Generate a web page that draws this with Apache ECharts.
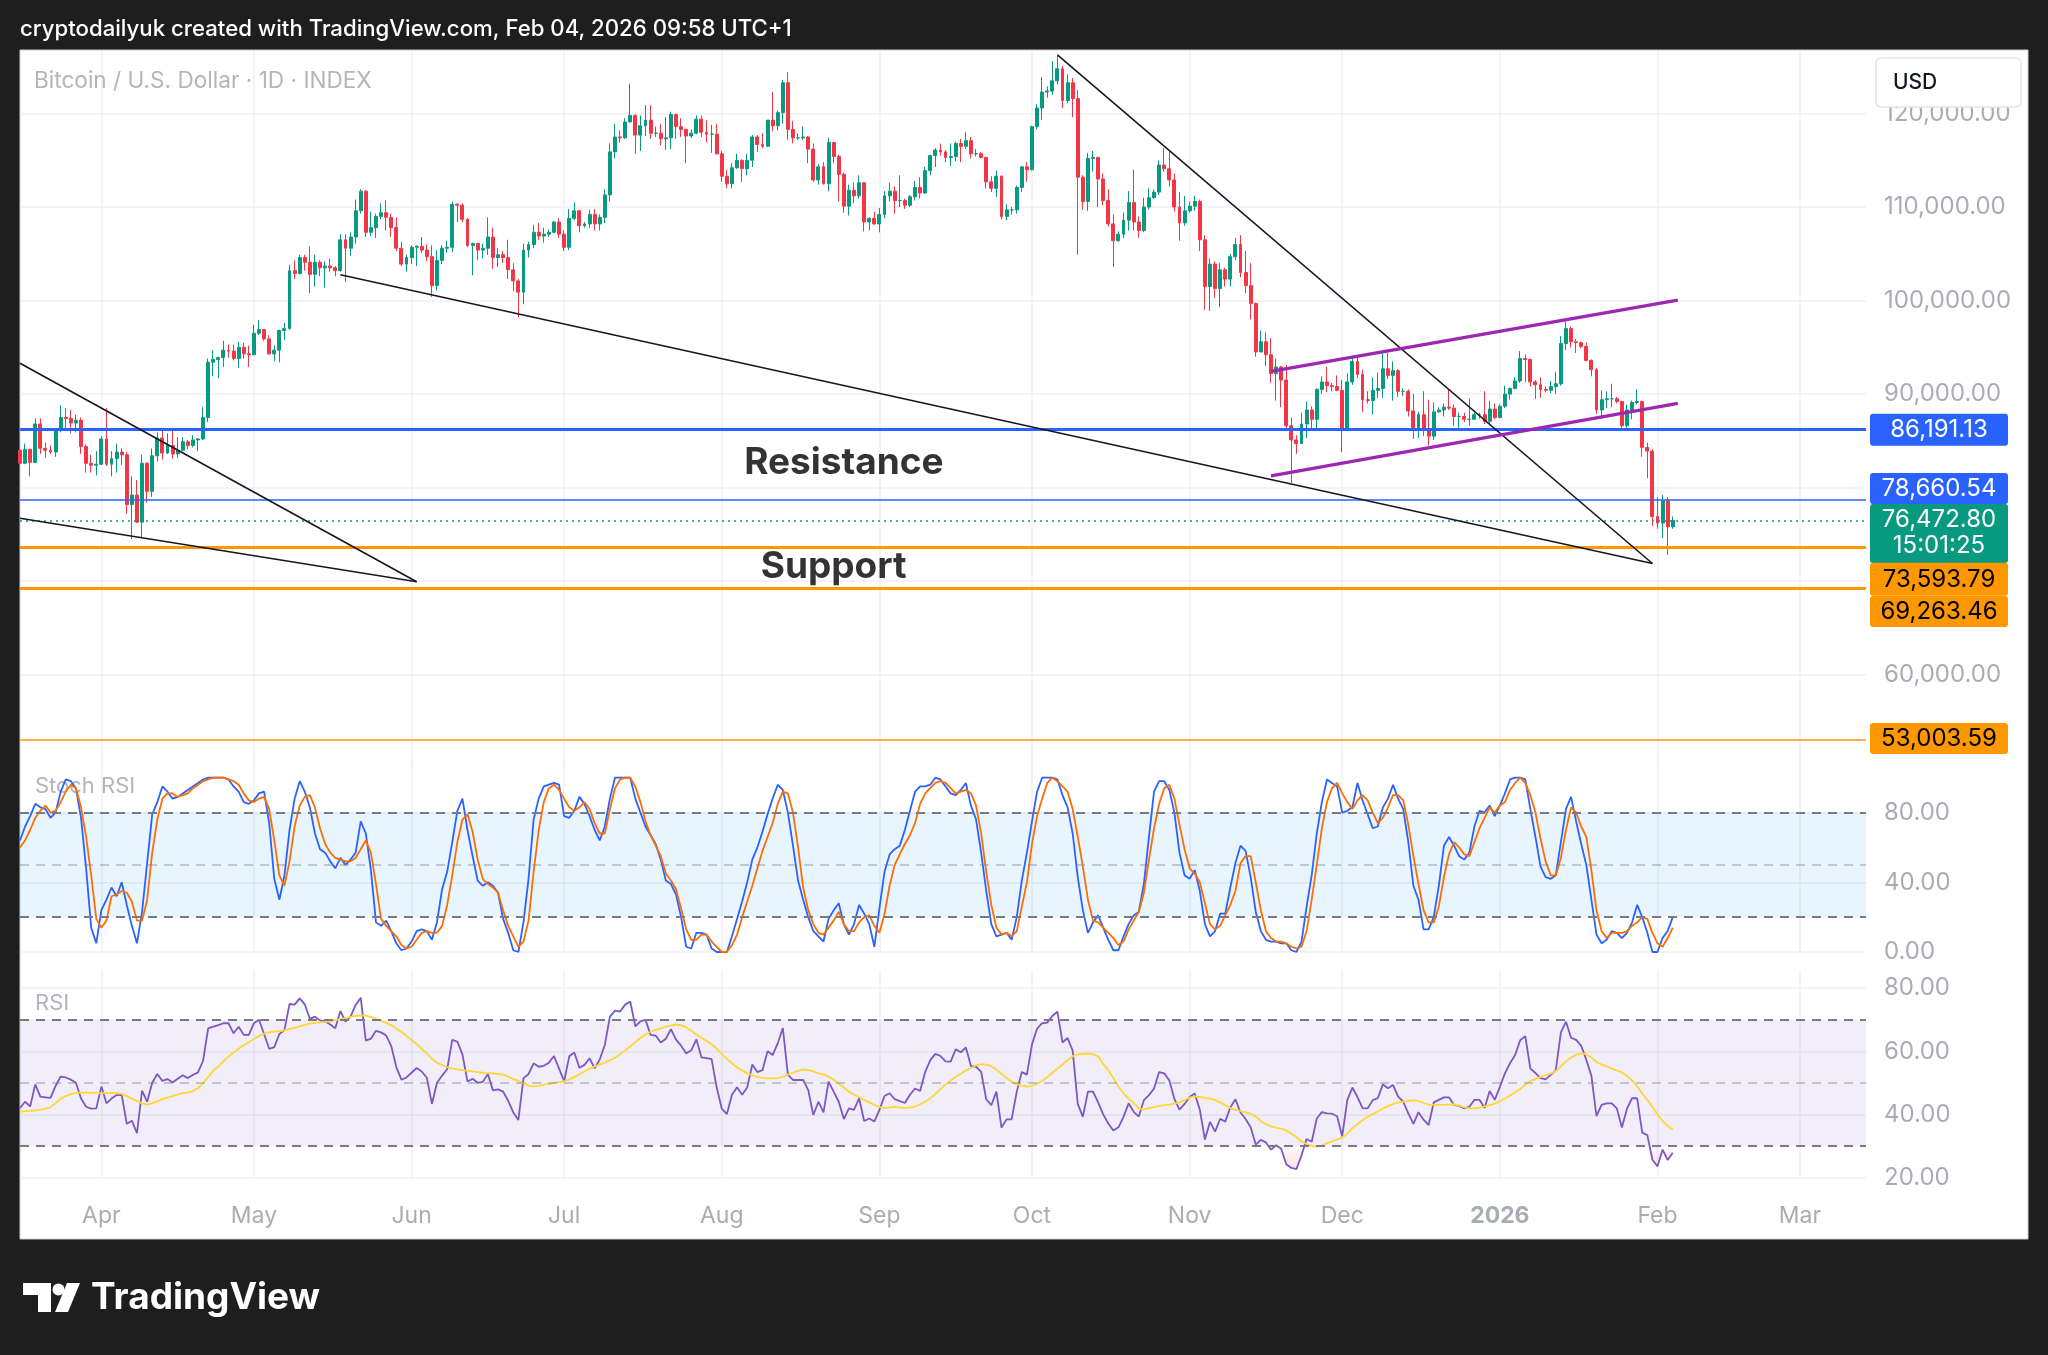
<!DOCTYPE html>
<html><head><meta charset="utf-8">
<script src="https://cdn.jsdelivr.net/npm/echarts@6/dist/echarts.min.js"></script>
<style>html,body{margin:0;padding:0;background:#1e1e1e;}#c{width:2048px;height:1355px;}</style>
</head><body><div id="c"></div>
<script>
// ---------- DATA ----------
const startDay = Date.UTC(2025, 2, 16);   // first category: 2025-03-16
const dayCount = 364;                      // categories through 2026-03-14
const monthNames = ['Jan','Feb','Mar','Apr','May','Jun','Jul','Aug','Sep','Oct','Nov','Dec'];
const titleText = 'cryptodailyuk created with TradingView.com, Feb 04, 2026 09:58 UTC+1';
const symbolText = 'Bitcoin / U.S. Dollar \u00b7 1D \u00b7 INDEX';

// daily candles, thousands USD: [open, close, low, high]
const ohlc = [
[84.0,82.6,82.0,85.0],[82.6,84.1,82.5,84.7],[84.1,82.7,81.2,84.1],[82.7,86.8,82.6,87.4],[86.8,84.2,83.6,87.4],
[84.2,84.0,83.2,84.8],[84.0,83.8,83.6,84.5],[83.8,86.1,83.3,86.3],[86.1,87.5,85.9,88.8],[87.5,87.4,86.3,88.5],
[87.4,86.9,85.8,88.3],[86.9,87.2,85.9,87.8],[87.2,84.4,83.6,87.5],[84.4,82.6,81.6,84.6],[82.6,82.4,81.6,83.5],
[82.4,82.5,81.3,83.9],[82.5,85.2,82.4,85.5],[85.2,82.5,82.3,88.5],[82.5,83.1,81.2,83.9],[83.1,83.8,81.6,84.7],
[83.8,83.5,82.4,84.2],[83.5,78.2,77.2,83.8],[78.2,79.2,74.5,81.2],[79.2,76.3,76.2,80.8],[76.3,82.6,74.6,83.5],
[82.6,79.6,78.4,82.7],[79.6,83.4,79.0,84.2],[83.4,85.3,82.8,85.9],[85.3,83.7,83.0,86.1],[83.7,84.5,83.6,85.8],
[84.5,83.6,83.1,86.4],[83.6,84.0,83.2,85.4],[84.0,84.9,83.9,85.4],[84.9,84.5,84.1,85.1],[84.5,85.1,84.3,85.6],
[85.1,85.2,83.9,85.3],[85.2,87.5,85.1,88.6],[87.5,93.4,87.0,93.8],[93.4,93.7,91.9,94.7],[93.7,93.9,91.7,94.0],
[93.9,94.7,92.9,95.7],[94.7,94.6,93.9,95.3],[94.6,93.8,93.6,95.3],[93.8,95.0,92.8,95.6],[95.0,94.3,93.8,95.5],
[94.3,94.2,92.9,95.2],[94.2,96.5,94.2,97.4],[96.5,96.9,96.3,97.9],[96.9,95.9,95.7,96.9],[95.9,94.3,94.2,96.3],
[94.3,94.7,93.5,95.2],[94.7,96.8,93.4,96.9],[96.8,97.0,95.8,97.6],[97.0,103.2,96.9,103.8],[103.2,102.9,102.3,104.3],
[102.9,104.6,102.8,104.9],[104.6,104.1,103.2,104.9],[104.1,102.8,100.8,105.8],[102.8,104.1,101.5,104.9],[104.1,103.5,102.6,104.3],
[103.5,103.7,101.4,104.2],[103.7,103.5,103.1,104.5],[103.5,103.2,102.6,103.7],[103.2,106.5,103.1,107.1],[106.5,105.6,102.0,107.1],
[105.6,106.8,104.8,107.3],[106.8,109.6,106.1,110.8],[109.6,111.7,109.3,111.9],[111.7,107.3,106.8,111.8],[107.3,107.8,106.9,109.5],
[107.8,109.0,106.7,109.3],[109.0,109.4,108.7,110.4],[109.4,108.9,107.5,110.7],[108.9,107.8,106.8,109.3],[107.8,105.6,105.3,108.9],
[105.6,103.9,103.7,106.3],[103.9,104.6,103.1,104.9],[104.6,105.7,103.9,105.9],[105.7,105.8,103.7,105.9],[105.8,105.4,105.1,106.8],
[105.4,104.7,104.2,106.0],[104.7,101.6,100.4,105.9],[101.6,104.3,101.1,105.4],[104.3,105.6,103.9,105.9],[105.6,105.7,105.1,106.4],
[105.7,110.3,105.2,110.6],[110.3,110.2,108.4,110.4],[110.2,108.7,108.4,110.4],[108.7,105.9,105.7,108.8],[105.9,106.1,102.7,106.2],
[106.1,105.4,104.3,106.2],[105.4,105.6,104.5,106.1],[105.6,106.8,104.9,108.9],[106.8,104.6,103.4,107.8],[104.6,104.9,103.6,105.6],
[104.9,104.6,104.0,105.3],[104.6,103.3,102.3,106.5],[103.3,102.1,101.0,104.0],[102.1,100.9,98.2,102.3],[100.9,105.4,99.6,106.1],
[105.4,106.0,104.6,106.3],[106.0,107.3,105.6,108.1],[107.3,106.9,106.5,108.3],[106.9,107.1,106.2,107.8],[107.1,107.3,106.8,107.6],
[107.3,108.4,107.2,108.5],[108.4,107.1,106.7,108.8],[107.1,105.7,105.3,107.5],[105.7,108.8,105.4,109.8],[108.8,109.6,108.6,110.5],
[109.6,108.0,107.3,109.7],[108.0,108.2,107.8,108.4],[108.2,109.2,107.8,109.7],[109.2,108.2,107.5,109.8],[108.2,108.9,107.5,109.2],
[108.9,111.3,108.3,111.9],[111.3,115.9,110.6,116.8],[115.9,117.5,115.2,118.9],[117.5,117.4,116.9,118.2],[117.4,119.1,117.3,119.5],
[119.1,119.8,119.1,123.2],[119.8,117.7,115.7,119.9],[117.7,118.7,116.0,119.8],[118.7,119.3,117.6,120.9],[119.3,117.9,117.3,120.9],
[117.9,117.9,117.5,118.6],[117.9,117.3,116.6,118.9],[117.3,117.4,116.1,119.6],[117.4,119.9,116.2,120.2],[119.9,118.6,117.3,120.0],
[118.6,118.3,117.5,119.5],[118.3,117.6,114.7,118.4],[117.6,117.9,117.4,118.3],[117.9,119.4,117.8,119.8],[119.4,118.0,117.5,119.8],
[118.0,117.8,116.9,119.3],[117.8,117.8,115.8,118.8],[117.8,115.7,115.6,118.9],[115.7,113.3,112.7,116.0],[113.3,112.5,112.0,114.0],
[112.5,114.2,112.0,114.7],[114.2,115.0,114.1,115.7],[115.0,114.1,112.7,115.1],[114.1,115.0,113.4,115.7],[115.0,117.5,114.3,117.7],
[117.5,116.7,115.9,117.7],[116.7,116.5,116.3,117.9],[116.5,119.3,116.5,119.3],[119.3,118.7,118.1,122.3],[118.7,120.1,118.2,120.3],
[120.1,123.3,118.9,123.6],[123.3,118.3,117.2,124.4],[118.3,117.4,116.8,119.2],[117.4,117.4,117.2,117.9],[117.4,117.5,117.2,118.6],
[117.5,116.2,114.7,117.6],[116.2,112.9,112.7,116.8],[112.9,114.3,112.4,114.6],[114.3,112.5,112.4,114.8],[112.5,116.9,111.7,117.4],
[116.9,115.4,114.7,117.0],[115.4,113.5,110.6,115.6],[113.5,110.1,109.4,113.7],[110.1,111.8,109.1,112.4],[111.8,111.2,110.4,112.6],
[111.2,112.6,110.9,113.4],[112.6,108.4,107.4,112.6],[108.4,108.8,107.5,108.9],[108.8,108.2,108.1,109.5],[108.2,109.2,107.3,109.9],
[109.2,111.2,108.8,111.7],[111.2,111.7,110.6,112.6],[111.7,110.7,109.3,112.2],[110.7,110.7,110.0,113.4],[110.7,110.2,109.8,110.9],
[110.2,111.1,110.0,111.3],[111.1,112.1,110.7,112.8],[112.1,111.5,110.9,113.2],[111.5,113.9,111.4,114.3],[113.9,115.5,113.4,115.6],
[115.5,116.1,114.3,116.3],[116.1,115.9,115.5,116.8],[115.9,115.3,114.8,116.1],[115.3,115.4,114.4,116.8],[115.4,116.8,114.9,117.0],
[116.8,116.5,114.8,117.3],[116.5,117.1,116.2,118.0],[117.1,115.7,115.2,117.5],[115.7,115.7,115.4,116.2],[115.7,115.3,115.2,115.9],
[115.3,112.7,112.0,115.4],[112.7,112.0,111.6,113.3],[112.0,113.3,111.1,113.9],[113.3,109.0,108.7,113.4],[109.0,109.7,108.6,110.3],
[109.7,109.7,109.2,110.0],[109.7,112.1,109.3,112.3],[112.1,114.3,111.6,114.4],[114.3,114.0,112.7,114.8],[114.0,118.6,113.9,118.7],
[118.6,120.6,118.3,121.0],[120.6,122.3,119.3,123.9],[122.3,122.4,121.7,122.9],[122.4,123.5,122.0,125.6],[123.5,124.8,123.1,126.2],
[124.8,121.4,120.6,125.1],[121.4,123.3,121.1,124.2],[123.3,121.6,119.6,123.8],[121.6,113.2,104.9,122.5],[113.2,110.6,109.7,113.4],
[110.6,115.2,109.6,115.8],[115.2,115.3,113.8,116.0],[115.3,113.0,110.0,115.4],[113.0,110.7,110.2,113.6],[110.7,108.2,107.9,111.9],
[108.2,106.4,103.6,109.2],[106.4,107.1,106.3,107.4],[107.1,108.6,106.7,109.4],[108.6,110.5,107.5,111.7],[110.5,108.4,107.5,114.0],
[108.4,107.5,106.7,109.0],[107.5,110.0,107.3,111.0],[110.0,111.0,109.7,112.0],[111.0,111.6,110.9,111.9],[111.6,114.5,111.3,115.0],
[114.5,114.1,113.8,116.3],[114.1,112.9,112.2,116.0],[112.9,110.0,109.5,113.6],[110.0,108.3,106.4,111.6],[108.3,109.6,108.0,111.2],
[109.6,110.1,109.4,110.6],[110.1,110.6,109.6,111.2],[110.6,106.5,105.3,110.8],[106.5,101.5,99.0,107.0],[101.5,103.9,98.9,104.5],
[103.9,101.3,100.3,104.2],[101.3,103.3,99.3,104.0],[103.3,102.3,101.5,103.5],[102.3,104.7,101.5,105.0],[104.7,106.0,104.3,106.7],
[106.0,103.0,102.5,107.0],[103.0,101.6,100.8,105.3],[101.6,99.7,98.0,104.0],[99.7,94.5,94.0,99.8],[94.5,95.6,94.5,96.8],
[95.6,94.2,93.0,96.6],[94.2,92.2,91.2,96.0],[92.2,92.9,89.3,93.8],[92.9,91.5,88.6,93.0],[91.5,86.6,86.2,93.1],
[86.6,85.1,80.5,87.5],[85.1,84.7,83.6,85.6],[84.7,86.8,84.7,88.0],[86.8,88.3,85.3,89.2],[88.3,87.3,86.1,88.7],
[87.3,90.5,86.3,90.6],[90.5,91.3,90.0,91.9],[91.3,90.9,90.2,92.9],[90.9,90.8,90.3,91.2],[90.8,90.4,90.3,92.0],
[90.4,86.3,83.8,91.5],[86.3,91.3,86.2,92.2],[91.3,93.5,91.0,94.1],[93.5,92.1,91.7,94.0],[92.1,89.4,88.1,92.6],
[89.4,89.3,89.0,90.3],[89.3,90.4,87.8,91.8],[90.4,90.6,89.6,92.3],[90.6,92.7,89.6,94.6],[92.7,92.0,91.6,94.4],
[92.0,92.5,89.3,93.5],[92.5,90.3,89.7,92.7],[90.3,90.3,89.8,90.6],[90.3,88.2,87.6,90.5],[88.2,86.4,85.2,90.0],
[86.4,87.8,85.3,88.1],[87.8,86.2,85.5,90.3],[86.2,85.5,84.5,89.4],[85.5,88.1,85.1,89.1],[88.1,88.3,88.0,88.6],
[88.3,88.6,87.6,89.0],[88.6,88.5,88.3,90.5],[88.5,87.6,86.6,88.9],[87.6,87.6,86.4,88.0],[87.6,87.3,87.0,88.0],
[87.3,87.3,86.6,89.5],[87.3,87.8,87.3,88.0],[87.8,87.8,87.4,88.0],[87.8,87.1,86.8,90.3],[87.1,88.4,86.8,89.3],
[88.4,87.5,87.3,89.0],[87.5,88.7,87.4,88.9],[88.7,90.0,88.5,90.9],[90.0,90.6,89.4,90.7],[90.6,91.4,90.5,91.8],
[91.4,93.8,91.2,94.6],[93.8,93.7,91.3,94.2],[93.7,91.3,90.8,93.8],[91.3,91.0,89.5,91.5],[91.0,90.5,89.6,91.8],
[90.5,90.4,90.2,90.8],[90.4,90.8,90.1,91.4],[90.8,91.1,90.0,92.4],[91.1,95.4,90.9,96.2],[95.4,97.0,94.7,97.9],
[97.0,95.6,95.0,97.2],[95.6,95.5,94.4,95.9],[95.5,95.1,94.9,95.6],[95.1,93.6,93.5,95.5],[93.6,92.6,91.9,93.7],
[92.6,88.3,87.9,92.8],[88.3,89.4,87.3,90.4],[89.4,89.5,88.5,90.3],[89.5,89.5,88.6,91.1],[89.5,89.2,89.0,89.7],
[89.2,86.6,86.2,89.3],[86.6,88.3,86.4,88.9],[88.3,89.1,87.3,89.3],[89.1,89.2,88.9,90.5],[89.2,84.3,83.3,89.3],
[84.3,83.9,81.0,84.8],[83.9,76.9,75.9,84.1],[76.9,76.2,75.6,79.0],[76.2,78.6,74.6,79.2],[78.6,75.8,72.8,79.0],
[75.8,76.5,75.6,76.9]
];

const stochK = [
64,72,78,85,83,82,77,80,92,99, 98,94,77,48,14,5,24,30,37,32, 40,27,15,5,23,51,79,86,95,92,
88,89,91,93,95,97,99,100,100,100, 100,99,95,92,86,85,87,91,92,74, 42,30,44,70,88,98,92,83,68,59,
57,52,48,54,50,53,57,75,68,47, 17,15,18,12,5,1,2,6,12,13, 12,7,17,36,46,63,81,88,70,55,
41,38,40,38,34,19,11,1,0,17, 42,76,88,95,96,97,96,78,77,81, 89,85,78,70,64,72,88,100,100,100,
100,88,80,72,67,62,53,41,39,33, 20,3,2,11,11,10,2,0,0,0, 9,19,29,40,53,60,69,79,88,96,
93,80,61,41,30,20,12,9,6,19, 24,28,16,10,16,27,22,16,3,25, 46,56,59,61,70,81,92,95,95,96,
100,99,95,91,90,93,97,84,76,57, 35,16,9,10,11,7,20,41,57,75, 92,100,100,100,99,90,83,68,43,24,
11,17,21,14,7,1,1,9,16,21, 23,39,66,92,98,98,93,80,57,44, 42,47,35,16,9,12,22,22,37,51,
61,58,43,23,12,7,6,6,5,5, 1,0,6,26,44,68,86,99,97,95, 80,81,83,97,87,79,71,72,83,88,
96,88,82,63,38,30,13,13,20,38, 61,66,61,55,53,57,72,81,80,84, 78,84,91,99,100,100,99,82,66,49,
43,42,44,63,82,89,75,62,50,30, 10,5,7,12,11,8,11,17,27,20, 11,0,0,8,12,20
];
const stochD = [
60,64,70,77,81,84,80,81,86,92, 96,94,83,66,44,19,14,18,32,33, 35,34,29,18,18,30,57,76,88,91,
91,89,90,91,94,96,98,99,100,100, 100,99,98,96,91,87,86,88,89,82, 64,44,38,52,72,84,89,90,83,71,
62,57,54,53,52,52,54,59,64,57, 39,19,15,12,9,4,2,3,7,11, 12,11,11,15,27,44,63,76,79,69,
53,42,39,37,34,24,15,9,3,6, 18,46,70,86,94,96,93,88,83,81, 83,86,82,74,68,68,82,94,99,100,
100,95,86,75,67,61,55,45,41,36, 25,13,7,7,10,10,6,3,0,0, 4,10,20,29,38,48,58,66,74,85,
92,91,80,60,37,24,16,11,10,14, 18,23,16,12,12,17,20,21,15,11, 22,38,50,56,62,67,74,85,91,94,
97,98,97,94,91,92,93,91,84,68, 46,27,14,10,11,9,12,26,40,62, 78,88,97,100,98,95,92,82,66,49,
30,18,17,14,11,8,4,6,13,18, 23,34,53,71,85,94,96,88,73,59, 48,45,40,28,16,13,15,21,27,35,
51,55,55,40,24,12,8,6,6,5, 3,2,3,12,30,50,71,86,94,97, 91,86,82,87,90,87,80,74,77,83,
90,90,87,73,55,39,24,17,17,26, 43,56,63,60,56,55,63,71,77,83, 80,84,86,93,97,100,97,90,80,65,
52,44,44,54,70,83,80,72,66,47, 24,12,8,11,11,11,12,15,17,20, 19,11,5,3,8,14
];
const rsi = [
42,44,42.5,49.5,45.6,45.4,45.2,49,52,51.7, 51,50,45,42.4,41.8,41.9,48.8,43.5,45,46.1,
46.1,37,38,34,47.5,44,50,52.8,50.6,51.2, 50.1,51.3,52.4,51.5,52.5,53.3,57,67.3,67.8,68.3,
68.9,68.9,65.7,67.8,65.2,65.2,68.9,70,65.5,60.8, 61.3,65.5,66.7,75,74.8,76.8,74.9,70.3,71,69.8,
69.5,68.5,67.3,72.8,69.4,71,74.7,77,63.4,64, 66.5,66,65,61.7,55,51,51.7,53.2,54.7,53.6,
51.6,43.3,50,52.3,54.3,63.6,63.1,59,50.4,51.3, 50,50.3,52.8,47.6,47.9,47.2,44.3,40.6,38.2,51.4,
52.8,56.2,55.1,55.4,56.4,58.5,54.5,50.5,58.4,59.6, 54.8,55.7,57.8,54.6,57.4,62,71,72.9,72.6,74.8,
75.8,67.9,69.5,70,65.2,65,62.8,64,67,63.7, 61.8,59.3,60.3,63.8,58.1,57.8,57.5,48.5,41.8,40.1,
46.2,48.6,46.2,48.5,55.8,53.4,54,60,58.8,62.5, 67.4,52.5,50.9,50.9,50.9,47.7,39.8,44,40.6,50.4,
47.2,44,38.5,41.9,41.4,45.1,37.9,38.7,37.7,41.4, 45.8,46.7,44.8,44.2,43.6,46.2,48.2,47.4,53.5,57.2,
59.2,58.5,56.8,56.7,60.6,59.7,61.2,55.3,55.1,53.5, 44.8,42.9,47.2,35.8,38.4,38.4,47.2,53.4,52.6,62.2,
67.2,68.9,69.1,71.2,72.6,62.8,64.2,60.2,43.3,39.2, 47.2,47.2,43.8,40,37.1,34.9,35.9,39.2,43.5,40.8,
39.3,44.5,46.1,48.2,53.4,53,50.8,44.9,41.5,43.3, 45.5,46.6,41.5,32,37.6,34.5,38.6,37.7,42.2,44.8,
40.6,38.5,35.9,30.4,31.9,31.1,28.8,30.2,29.1,24.2, 23,22.6,27,32.2,31.3,38.7,40.7,40.3,40.2,39.4,
33,44.5,48.5,45.5,42,41.9,44.5,45.1,49.5,48.3, 49.3,45.6,44,40.3,37,40.7,38.3,36.6,43.8,44.6,
45.4,45.4,43,42.7,41.9,42.4,44.6,44.6,42,47.4, 44.6,48.7,53,56.2,58.8,63.5,64.8,54.5,53.1,51.5,
51.1,52.5,54,66,69.4,64.3,63.6,61.7,57.3,52.2, 39.4,43,43.5,43.5,41.9,35.8,41.8,45.1,45.1,34.2,
33.4,25.6,23.5,28.8,25.5,27.8
];
const rsiMA = [
40.8,41.0,41.1,41.3,41.5,41.8,42.2,43.5,45.0,45.8, 46.4,46.8,46.9,46.9,46.8,46.8,46.7,46.7,46.7,46.7,
46.5,45.8,45.0,44.2,43.5,43.1,43.5,44.2,44.8,45.3, 45.8,46.3,46.7,47.0,47.4,48.3,49.9,51.8,53.8,55.2,
56.8,58.3,59.6,60.8,61.9,62.9,63.9,64.8,65.6,66.0, 66.2,66.4,66.6,67.0,67.4,67.9,68.4,68.8,69.0,69.2,
69.3,69.5,69.9,70.2,70.5,70.9,71.2,71.4,71.3,70.9, 70.3,69.7,69.0,68.3,67.3,66.1,64.9,63.6,62.3,60.8,
59.3,57.6,56.4,55.6,55.0,54.6,54.3,54.0,53.8,53.6, 53.4,53.2,53.1,53.0,52.8,52.6,52.0,51.2,50.6,49.8,
49.1,48.8,49.0,49.4,49.7,50.0,50.2,50.5,51.0,51.8, 52.7,53.6,54.5,55.2,55.8,56.4,57.1,57.9,59.1,60.3,
61.5,62.9,64.2,65.3,66.2,66.8,67.3,67.8,68.2,68.5, 68.3,67.6,66.5,65.3,64.3,63.3,62.2,60.8,59.1,57.6,
56.2,54.9,53.9,53.0,52.4,51.9,51.6,51.4,51.4,51.5, 51.9,52.6,53.2,53.8,54.2,54.1,53.6,53.0,52.6,52.0,
51.0,49.8,48.5,47.2,46.3,45.5,44.6,43.8,43.0,42.3, 42.0,42.2,42.4,42.2,42.0,42.1,42.5,43.2,44.0,45.0,
46.5,48.0,49.4,50.7,51.9,52.9,53.9,54.7,55.5,55.9, 55.8,55.2,54.2,52.9,51.5,50.3,49.6,49.1,48.8,49.0,
49.7,50.6,51.8,53.2,54.5,55.8,57.2,58.5,59.0,59.2, 59.3,59.0,58.4,56.0,54.0,51.5,48.8,46.6,45.0,43.6,
42.0,41.5,42.0,42.3,42.6,42.9,43.1,43.4,43.8,44.5, 45.3,45.7,45.5,45.2,45.0,44.5,43.8,42.9,42.0,41.4,
41.0,40.6,40.2,39.3,37.9,36.8,36.2,35.8,35.5,34.9, 33.9,32.8,31.4,30.6,30.0,29.8,30.1,30.8,31.4,32.0,
32.6,33.9,35.6,36.9,38.1,39.2,40.1,40.9,41.8,42.6, 43.3,43.7,44.0,44.3,44.5,44.2,43.6,43.1,43.0,43.0,
43.0,43.1,43.2,42.8,42.2,41.9,41.9,42.1,42.5,42.9, 43.4,44.1,45.0,45.9,47.0,48.0,49.4,50.6,51.2,51.9,
52.4,52.9,53.7,55.2,56.8,58.0,58.9,59.4,59.0,58.0, 56.6,55.8,55.2,54.5,53.9,53.3,52.2,50.8,48.9,46.6,
44.6,42.4,40.0,37.9,36.3,35.2
];

// horizontal price levels (thousands USD)
const levelValues = [86.19113, 78.66054, 76.4728, 73.59379, 69.26346, 53.00359];
const levelSubText = ['', '', '15:01:25', '', '', ''];
// drawn trend lines: [[categoryIndex, price], [categoryIndex, price]]
const blackLines = [
  [[0, 93.29], [78, 69.93]],
  [[0, 76.72], [78, 69.93]],
  [[63, 102.76], [321, 71.88]],
  [[204, 126.27], [321, 71.88]]
];
const purpleLines = [
  [[246, 92.42], [326, 100.05]],
  [[246, 81.26], [326, 89.01]]
];
const noteTexts = ['Resistance', 'Support'];
const notePoints = [[162, 82.64], [160, 71.51]];

// ---------- STYLE ----------
const FONT = 'Inter, Roboto, sans-serif';
const axisTextColor = '#a9acb5';
const gridLineColor = '#eef0f4';
const levelStyles = [
  {line: {color: '#2962ff', width: 3, type: 'solid'}, bg: '#2962ff', fg: '#ffffff', dy: 0, h: 32},
  {line: {color: '#2962ff', width: 1.5, type: 'solid'}, bg: '#2962ff', fg: '#ffffff', dy: -11.6, h: 31},
  {line: {color: '#089981', width: 1.5, type: [2, 4]}, bg: '#089981', fg: '#ffffff', dy: 13, h: 59},
  {line: {color: '#ff9800', width: 3, type: 'solid'}, bg: '#ff9800', fg: '#000000', dy: 31.8, h: 33},
  {line: {color: '#ff9800', width: 3, type: 'solid'}, bg: '#ff9800', fg: '#000000', dy: 23.5, h: 31},
  {line: {color: '#ff9800', width: 1.5, type: 'solid'}, bg: '#ff9800', fg: '#000000', dy: -1.5, h: 31}
];

// ---------- BUILD ----------
const categories = [];
for (let i = 0; i < dayCount; i++) categories.push(new Date(startDay + i * 86400000).toISOString().slice(0, 10));
const isMonthStart = (idx, val) => val.slice(8) === '01';

function fmtPrice(k) {
  const parts = (k * 1000).toFixed(2).split('.');
  return parts[0].replace(/\B(?=(\d{3})+(?!\d))/g, ',') + '.' + parts[1];
}

const dashStrong = {color: '#787b86', width: 2, type: [9, 7]};
const dashWeak = {color: 'rgba(120,123,134,0.5)', width: 1.5, type: [9, 7]};
const ylab = {color: axisTextColor, fontSize: 24, fontFamily: FONT, align: 'left', margin: 18};

const xAxes = [0, 1, 2].map(g => ({
  type: 'category', gridIndex: g, data: categories, boundaryGap: false,
  axisLine: {show: false}, axisTick: {show: false},
  splitLine: {show: true, interval: isMonthStart, lineStyle: {color: gridLineColor, width: 1.5}},
  axisLabel: g === 2 ? {
    show: true, interval: isMonthStart, margin: 27, fontFamily: FONT,
    formatter: v => { const m = +v.slice(5, 7); return m === 1 ? '{y|' + v.slice(0, 4) + '}' : '{m|' + monthNames[m - 1] + '}'; },
    rich: {y: {fontSize: 23, fontWeight: 'bold', color: axisTextColor, fontFamily: FONT},
           m: {fontSize: 23, color: axisTextColor, fontFamily: FONT}}
  } : {show: false}
}));

const yAxes = [
  {type: 'value', gridIndex: 0, position: 'right', min: 50, max: 126.695, interval: 10,
   axisLine: {show: false}, axisTick: {show: false},
   splitLine: {show: true, showMinLine: false, showMaxLine: false, lineStyle: {color: gridLineColor, width: 1.5}},
   axisLabel: Object.assign({}, ylab, {showMinLabel: false, showMaxLabel: false, formatter: v => fmtPrice(v)})},
  {type: 'value', gridIndex: 1, position: 'right', min: 0, max: 112, interval: 40,
   axisLine: {show: false}, axisTick: {show: false},
   splitLine: {show: true, showMaxLine: false, lineStyle: {color: gridLineColor, width: 1.5}},
   axisLabel: Object.assign({}, ylab, {showMaxLabel: false, formatter: v => v.toFixed(2)})},
  {type: 'value', gridIndex: 2, position: 'right', min: 20, max: 85.5, interval: 20,
   axisLine: {show: false}, axisTick: {show: false},
   splitLine: {show: true, showMaxLine: false, lineStyle: {color: gridLineColor, width: 1.5}},
   axisLabel: Object.assign({}, ylab, {showMaxLabel: false, formatter: v => v.toFixed(2)})}
];

function renderTag(params, api) {
  const i = params.dataIndex, s = levelStyles[i], cs = params.coordSys;
  const price = api.value(1);
  const y = api.coord([0, price])[1] + s.dy;
  const x = cs.x + cs.width + 4, w = 138;
  const font = '24px ' + FONT;
  const kids = [{type: 'rect', shape: {x: x, y: y - s.h / 2, width: w, height: s.h, r: 3}, style: {fill: s.bg}}];
  if (levelSubText[i]) {
    kids.push({type: 'text', style: {text: fmtPrice(price), x: x + w / 2, y: y - 13.5, align: 'center', verticalAlign: 'middle', fill: s.fg, font: font}});
    kids.push({type: 'text', style: {text: levelSubText[i], x: x + w / 2, y: y + 12.5, align: 'center', verticalAlign: 'middle', fill: s.fg, font: font}});
  } else {
    kids.push({type: 'text', style: {text: fmtPrice(price), x: x + w / 2, y: y, align: 'center', verticalAlign: 'middle', fill: s.fg, font: font}});
  }
  return {type: 'group', children: kids};
}

const series = [];
series.push({
  type: 'candlestick', xAxisIndex: 0, yAxisIndex: 0, data: ohlc, barWidth: 3.4, clip: true, z: 3,
  itemStyle: {color: '#089981', color0: '#f23645', borderColor: '#089981', borderColor0: '#f23645', borderWidth: 1},
  markLine: {silent: true, symbol: ['none', 'none'], label: {show: false}, z: 5,
    data: levelValues.map((v, k) => ({yAxis: v, lineStyle: levelStyles[k].line}))}
});
blackLines.forEach(l => series.push({type: 'line', xAxisIndex: 0, yAxisIndex: 0, data: l, symbol: 'none', silent: true, z: 6,
  lineStyle: {color: '#131722', width: 1.6}}));
purpleLines.forEach(l => series.push({type: 'line', xAxisIndex: 0, yAxisIndex: 0, data: l, symbol: 'none', silent: true, z: 6,
  lineStyle: {color: '#9c27b0', width: 3.2}}));
series.push({type: 'scatter', xAxisIndex: 0, yAxisIndex: 0, symbolSize: 1, silent: true, z: 7,
  itemStyle: {color: 'rgba(0,0,0,0)'},
  data: notePoints.map((p, k) => ({value: p, name: noteTexts[k]})),
  label: {show: true, position: 'inside', formatter: '{b}', fontSize: 37, fontWeight: 'bold', color: '#000000', fontFamily: FONT}});
series.push({type: 'custom', xAxisIndex: 0, yAxisIndex: 0, clip: false, silent: true, z: 20,
  data: levelValues.map(v => [0, v]), encode: {x: 0, y: 1}, renderItem: renderTag});

// Stoch RSI
series.push({type: 'line', xAxisIndex: 1, yAxisIndex: 1, data: stochK, symbol: 'none', silent: true,
  lineStyle: {color: '#2962ff', width: 1.8},
  markArea: {silent: true, itemStyle: {color: 'rgba(33,150,243,0.1)'}, data: [[{yAxis: 20}, {yAxis: 80}]]},
  markLine: {silent: true, symbol: ['none', 'none'], label: {show: false},
    data: [{yAxis: 80, lineStyle: dashStrong}, {yAxis: 50, lineStyle: dashWeak}, {yAxis: 20, lineStyle: dashStrong}]}});
series.push({type: 'line', xAxisIndex: 1, yAxisIndex: 1, data: stochD, symbol: 'none', silent: true,
  lineStyle: {color: '#ff6d00', width: 1.8}});

// RSI with overbought / oversold fills
series.push({type: 'line', xAxisIndex: 2, yAxisIndex: 2, data: rsi, symbol: 'none', silent: true,
  lineStyle: {opacity: 0}, areaStyle: {origin: 70, color: {type: 'linear', x: 0, y: 971, x2: 0, y2: 1020.8, global: true,
    colorStops: [{offset: 0, color: 'rgba(76,175,80,0.30)'}, {offset: 0.995, color: 'rgba(76,175,80,0.04)'}, {offset: 1, color: 'rgba(76,175,80,0)'}]}}});
series.push({type: 'line', xAxisIndex: 2, yAxisIndex: 2, data: rsi, symbol: 'none', silent: true,
  lineStyle: {opacity: 0}, areaStyle: {origin: 30, color: {type: 'linear', x: 0, y: 1146.1, x2: 0, y2: 1177.4, global: true,
    colorStops: [{offset: 0, color: 'rgba(242,54,69,0)'}, {offset: 0.005, color: 'rgba(242,54,69,0.04)'}, {offset: 1, color: 'rgba(242,54,69,0.28)'}]}}});
series.push({type: 'line', xAxisIndex: 2, yAxisIndex: 2, data: rsi, symbol: 'none', silent: true,
  lineStyle: {color: '#7e57c2', width: 1.8},
  markArea: {silent: true, itemStyle: {color: 'rgba(126,87,194,0.1)'}, data: [[{yAxis: 30}, {yAxis: 70}]]},
  markLine: {silent: true, symbol: ['none', 'none'], label: {show: false},
    data: [{yAxis: 70, lineStyle: dashStrong}, {yAxis: 50, lineStyle: dashWeak}, {yAxis: 30, lineStyle: dashStrong}]}});
series.push({type: 'line', xAxisIndex: 2, yAxisIndex: 2, data: rsiMA, symbol: 'none', silent: true,
  lineStyle: {color: '#fdd835', width: 1.8}});

const paneText = {fill: '#b2b5be', font: '22px ' + FONT, verticalAlign: 'middle'};
const graphic = [
  {type: 'rect', z: -100, silent: true, shape: {x: 20, y: 50, width: 2008, height: 1189}, style: {fill: '#ffffff', stroke: '#c9ccd3', lineWidth: 1}},
  {type: 'text', z: 100, silent: true, style: {text: titleText, x: 20, y: 29, verticalAlign: 'middle', fill: '#ffffff', font: '500 22.2px ' + FONT}},
  {type: 'text', z: 1, silent: true, style: {text: symbolText, x: 34, y: 81, verticalAlign: 'middle', fill: '#b2b5be', font: '22.6px ' + FONT}},
  {type: 'text', z: 1, silent: true, style: Object.assign({text: 'Stoch RSI', x: 35, y: 786}, paneText)},
  {type: 'text', z: 1, silent: true, style: Object.assign({text: 'RSI', x: 35, y: 1003}, paneText)},
  {type: 'rect', z: 100, silent: true, shape: {x: 1876, y: 58, width: 145, height: 49, r: 5}, style: {fill: '#ffffff', stroke: '#e0e3eb', lineWidth: 1.5}},
  {type: 'text', z: 101, silent: true, style: {text: 'USD', x: 1893, y: 83, verticalAlign: 'middle', fill: '#131722', font: '500 21px ' + FONT}},
  {type: 'polygon', z: 100, silent: true, shape: {points: [[23, 1283], [51, 1283], [51, 1312], [38, 1312], [38, 1295], [23, 1295]]}, style: {fill: '#ffffff'}},
  {type: 'circle', z: 100, silent: true, shape: {cx: 58.5, cy: 1289.5, r: 6}, style: {fill: '#ffffff'}},
  {type: 'polygon', z: 100, silent: true, shape: {points: [[67, 1283], [80, 1283], [68, 1312], [55, 1312]]}, style: {fill: '#ffffff'}},
  {type: 'text', z: 100, silent: true, style: {text: 'TradingView', x: 91, y: 1298, verticalAlign: 'middle', fill: '#ffffff', font: '700 37px ' + FONT}}
];

const chart = echarts.init(document.getElementById('c'), null, {width: 2048, height: 1355});
chart.setOption({
  backgroundColor: '#1e1e1e',
  animation: false,
  textStyle: {fontFamily: FONT},
  grid: [
    {left: 20, right: 182, top: 50.96, height: 717.14},
    {left: 20, right: 182, top: 756.8, height: 195.2},
    {left: 20, right: 182, top: 970.9, height: 206.5}
  ],
  xAxis: xAxes,
  yAxis: yAxes,
  series: series,
  graphic: graphic
});
</script>
</body></html>
